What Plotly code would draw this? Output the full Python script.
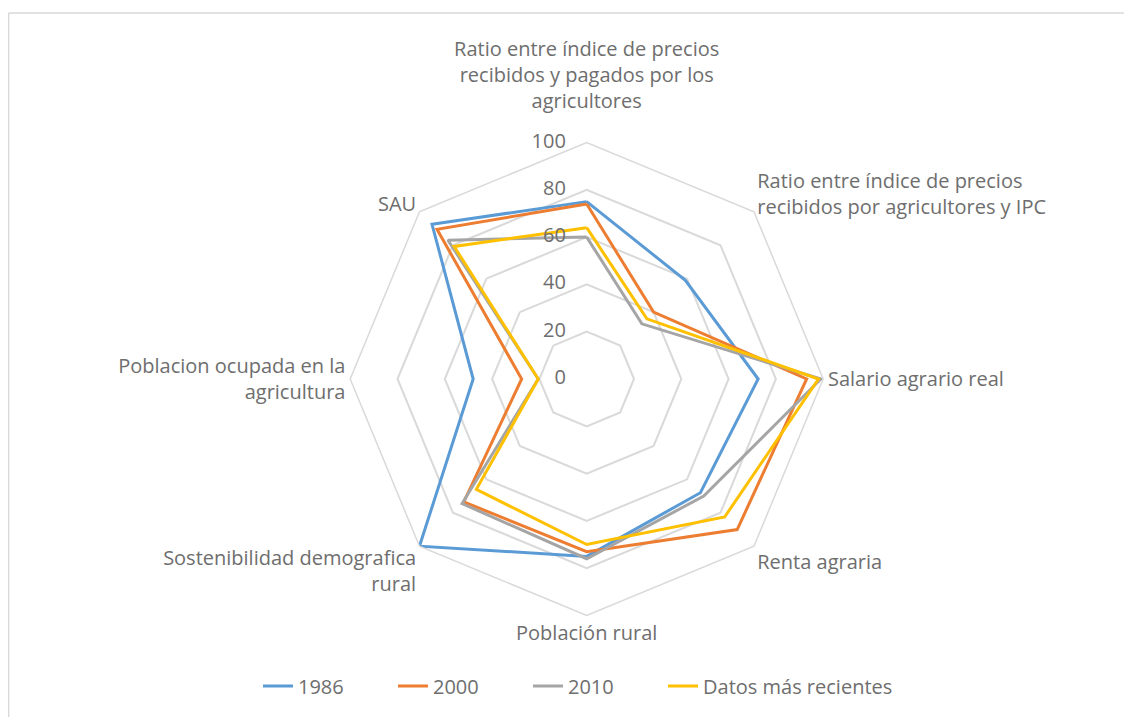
import plotly.graph_objects as go

categories = [
    "Ratio entre índice de precios<br>recibidos y pagados por los<br>agricultores<br>\u00a0",
    "Ratio entre índice de precios<br>recibidos por agricultores y IPC",
    "Salario agrario real",
    "Renta agraria",
    "Población rural",
    "Sostenibilidad demografica<br>rural",
    "Poblacion ocupada en la<br>agricultura",
    "SAU",
]
series_names = ["1986", "2000", "2010", "Datos más recientes"]
v1986 = [75, 59, 72.5, 68, 75, 100, 48, 92.5]
v2000 = [74, 40, 93, 90, 73, 73.5, 27.5, 89.5]
v2010 = [60, 33, 99, 70, 76, 74.5, 20.5, 83]
vrec = [64, 36, 98, 82.5, 70, 66, 20.5, 79.3]
colors = ["#5B9BD5", "#ED7D31", "#A5A5A5", "#FFC000"]
tick_vals = [0, 20, 40, 60, 80, 100]
tick_labels = ["0", "20", "40", "60", "80", "100"]

# page body has an 8px margin
OFF = 8
W, H = 1132 - OFF, 717 - OFF
FONT = "Open Sans"
FS = 20
TXT = "#6E6E6E"

legend_ids = ["legend", "legend2", "legend3", "legend4"]
legend_x_screen = [258, 393, 528, 663]

fig = go.Figure()
for name, vals, col, lid in zip(series_names, [v1986, v2000, v2010, vrec], colors, legend_ids):
    fig.add_trace(go.Scatterpolar(
        r=vals + vals[:1],
        theta=categories + categories[:1],
        mode="lines",
        name=name,
        legend=lid,
        line=dict(color=col, width=3),
    ))

# radial tick labels, placed to the left of the top axis
fig.add_trace(go.Scatterpolar(
    r=[max(v, 1e-6) for v in tick_vals],
    theta=[categories[0]] * len(tick_vals),
    mode="text",
    text=[t + "\u00a0\u00a0\u00a0\u00a0" for t in tick_labels],
    textposition="middle left",
    textfont=dict(family=FONT, size=FS, color=TXT),
    showlegend=False,
    hoverinfo="skip",
    cliponaxis=False,
))

legend_layout = {}
for lid, xs in zip(legend_ids, legend_x_screen):
    legend_layout[lid] = dict(
        orientation="h", x=(xs - OFF) / W, y=1 - (686 - OFF) / H,
        xanchor="left", yanchor="middle",
        font=dict(family=FONT, size=FS, color=TXT),
        bgcolor="rgba(0,0,0,0)",
    )

cx, cy, rad = 586.7 - OFF, 379 - OFF, 236.5
fig.update_layout(
    width=W, height=H,
    margin=dict(l=0, r=0, t=0, b=0),
    paper_bgcolor="white",
    plot_bgcolor="white",
    font=dict(family=FONT, size=FS, color=TXT),
    showlegend=True,
    polar=dict(
        domain=dict(x=[(cx - rad) / W, (cx + rad) / W], y=[1 - (cy + rad) / H, 1 - (cy - rad) / H]),
        bgcolor="white",
        gridshape="linear",
        angularaxis=dict(
            rotation=90, direction="clockwise",
            showgrid=False, showline=True, linecolor="#D9D9D9", linewidth=1.5,
            ticks="", tickfont=dict(family=FONT, size=FS, color=TXT),
        ),
        radialaxis=dict(
            range=[0, 100], tickvals=tick_vals, angle=90,
            showticklabels=False,
            showline=False, showgrid=True, gridcolor="#D9D9D9", gridwidth=1.5,
            ticks="",
        ),
    ),
    shapes=[
        dict(type="line", xref="paper", yref="paper", x0=0.6 / W, x1=1, y0=1 - (13 - OFF) / H, y1=1 - (13 - OFF) / H,
             line=dict(color="#D9D9D9", width=1.5)),
        dict(type="line", xref="paper", yref="paper", x0=0.6 / W, x1=0.6 / W, y0=0, y1=1 - (13 - OFF) / H,
             line=dict(color="#D9D9D9", width=1.5)),
    ],
    **legend_layout,
)

fig.write_html("out.html")
